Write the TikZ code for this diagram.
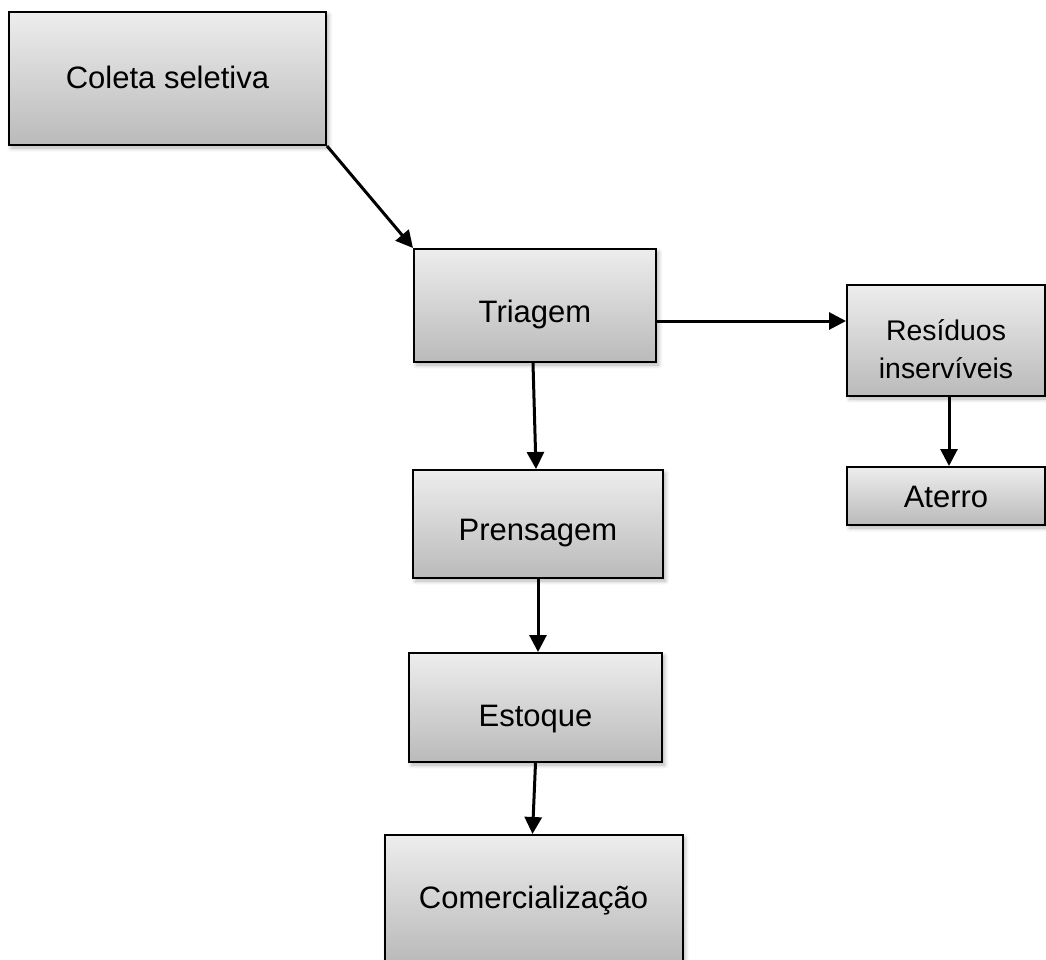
\documentclass[tikz,border=0pt]{standalone}
\usepackage{fontspec}
\setmainfont{Liberation Sans}
\usepackage{tikz}
\usetikzlibrary{calc,shadows,shadows.blur,arrows.meta,positioning}

\begin{document}
\begin{tikzpicture}[x=.5pt,y=-.5pt]
		\tikzstyle{caixa} = [draw=black,line width=1pt,top color=black!7,bottom color=black!27,
		blur shadow={shadow blur steps=6,shadow xshift=1.2pt,shadow yshift=-1.5pt,shadow opacity=30},
		inner sep=0pt,align=center,text depth=0pt,font=\fontsize{15.5}{19}\selectfont]
		\tikzstyle{seta} = [-{Triangle[length=8.5pt,width=8.5pt]},line width=1.5pt,black]
		\useasboundingbox (0,0) rectangle (1046,960);
		% caixas do fluxo
		\node[caixa,minimum width=158.5pt,minimum height=66.5pt,text height=10.1pt] (coleta) at (167.5,78.5) {Coleta seletiva};
		\node[caixa,minimum width=121pt,minimum height=56.5pt,text height=17.1pt] (triagem) at (535,305.5) {Triagem};
		\node[caixa,minimum width=99pt,minimum height=55.5pt,text height=40pt,text depth=2.5pt,
		font=\fontsize{14.2}{19}\selectfont] (residuos) at (946,340.5) {Resíduos\\inservíveis};
		\node[caixa,minimum width=99pt,minimum height=29pt,text height=11.1pt] (aterro) at (946,496) {Aterro};
		\node[caixa,minimum width=125pt,minimum height=54pt,text height=16.1pt] (prensagem) at (538,524) {Prensagem};
		\node[caixa,minimum width=126.5pt,minimum height=54.5pt,text height=19.1pt] (estoque) at (535.5,707.5) {Estoque};
		\node[caixa,minimum width=149pt,minimum height=63pt,text height=10.6pt] (comercial) at (533.5,898) {Comercialização};
		% setas
		\draw[seta] (coleta.south east) -- (triagem.north west);
		\draw[seta] ([yshift=-7.75pt]triagem.east) -- ([yshift=-7.75pt]triagem.east -| residuos.west);
		\draw[seta] ([xshift=-1pt]triagem.south) -- ([xshift=-1pt]prensagem.north);
		\draw[seta] (prensagem.south) -- ([xshift=1.25pt]estoque.north);
		\draw[seta] (estoque.south) -- ([xshift=-.5pt]comercial.north);
		\draw[seta] ([xshift=1.5pt]residuos.south) -- ([xshift=1.5pt]aterro.north);
\end{tikzpicture}
\end{document}
